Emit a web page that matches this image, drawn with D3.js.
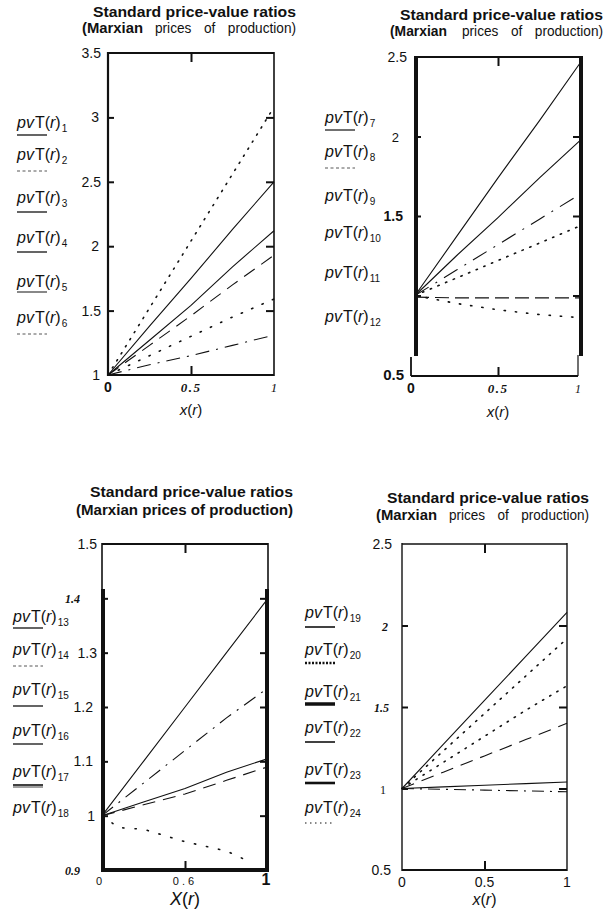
<!DOCTYPE html>
<html>
<head>
<meta charset="utf-8">
<script src="https://cdn.jsdelivr.net/npm/d3@7"></script>
<style>
  body { margin: 0; background: #fff; }
  svg { display: block; }
</style>
</head>
<body>
<svg id="chart" width="607" height="915"></svg>
<script>
// ---------- data ----------
const xGrid = [0, 0.25, 0.5, 0.75, 1];
const xTickValues = [0, 0.5, 1];

// panel 1: pvT(r)1 .. pvT(r)6
const p1Dotted   = [1, 1.52, 2.04, 2.56, 3.08];
const p1SolidA   = [1, 1.38, 1.75, 2.13, 2.50];
const p1SolidB   = [1, 1.27, 1.54, 1.84, 2.12];
const p1LongDash = [1, 1.23, 1.46, 1.70, 1.93];
const p1DottedB  = [1, 1.15, 1.30, 1.45, 1.59];
const p1DashDot  = [1, 1.08, 1.15, 1.23, 1.31];
const p1YTicks = [1, 1.5, 2, 2.5, 3, 3.5];
const p1YLabels = ["1", "1.5", "2", "2.5", "3", "3.5"];
const p1XLabels = ["0", "0.5", "1"];
const p1Legend = ["1", "2", "3", "4", "5", "6"];

// panel 2: pvT(r)7 .. pvT(r)12
const p2SolidA   = [1, 1.37, 1.74, 2.10, 2.47];
const p2SolidB   = [1, 1.25, 1.49, 1.74, 1.98];
const p2DashDot  = [1, 1.16, 1.32, 1.48, 1.64];
const p2Dotted   = [1, 1.11, 1.22, 1.33, 1.44];
const p2LongDash = [0.99, 0.985, 0.985, 0.985, 0.985];
const p2DottedB  = [1, 0.95, 0.91, 0.88, 0.86];
const p2YTicks = [0.5, 1, 1.5, 2, 2.5];
const p2YLabelValues = [0.5, 1.5, 2, 2.5];
const p2YLabels = ["0.5", "1.5", "2", "2.5"];
const p2XLabels = ["0", "0.5", "1"];
const p2Legend = ["7", "8", "9", "10", "11", "12"];

// panel 3: pvT(r)13 .. pvT(r)18
const p3SolidA   = [1, 1.10, 1.20, 1.30, 1.40];
const p3DashDot  = [1, 1.06, 1.12, 1.18, 1.235];
const p3SolidB   = [1, 1.025, 1.05, 1.08, 1.105];
const p3LongDash = [1, 1.02, 1.04, 1.065, 1.09];
const p3DottedX  = [0, 0.1, 0.25, 0.5, 0.75, 0.87];
const p3Dotted   = [1, 0.978, 0.975, 0.952, 0.935, 0.918];
const p3YTicks = [0.9, 1, 1.1, 1.2, 1.3, 1.4, 1.5];
const p3YLabels = ["0.9", "1", "1.1", "1.2", "1.3", "1.4", "1.5"];
const p3XLabels = ["0", "0.6", "1"];
const p3Legend = ["13", "14", "15", "16", "17", "18"];

// panel 4: pvT(r)19 .. pvT(r)24
const p4Solid    = [1, 1.27, 1.54, 1.81, 2.08];
const p4Dotted   = [1, 1.23, 1.46, 1.69, 1.92];
const p4DottedB  = [1, 1.16, 1.32, 1.48, 1.63];
const p4LongDash = [1, 1.10, 1.20, 1.30, 1.40];
const p4SolidFlat = [1, 1.01, 1.02, 1.03, 1.04];
const p4DashDot  = [1, 0.995, 0.99, 0.985, 0.98];
const p4YTicks = [0.5, 1, 1.5, 2, 2.5];
const p4YLabels = ["0.5", "1", "1.5", "2", "2.5"];
const p4XLabels = ["0", "0.5", "1"];
const p4Legend = ["19", "20", "21", "22", "23", "24"];

const titleLine1 = "Standard price-value ratios";
const titleBold = "(Marxian";
const titleRest = "prices of production)";

// ---------- styles ----------
const SANS = "'Liberation Sans', Arial, Helvetica, sans-serif";
const SERIF = "'Liberation Serif', 'Times New Roman', serif";
const DASH = {
  solid: null,
  dotted: "1.3,7",
  dottedWide: "1.3,10",
  longDash: "13,8",
  dashDot: "14,7,2,7"
};
const sansN = { family: SANS, size: 14, weight: "normal", style: "normal" };
const sansB = { family: SANS, size: 14, weight: "bold", style: "normal" };
const serifBI = { family: SERIF, size: 13, weight: "bold", style: "italic", spacing: 1.5 };
const serifI = { family: SERIF, size: 13, weight: "normal", style: "italic" };
const serifN = { family: SERIF, size: 12, weight: "normal", style: "normal" };

const svg = d3.select("#chart");

function series(values, dash, xs) {
  return { values, dash, xs: xs || xGrid };
}

function styledText(g, txt, x, yy, st, anchor) {
  return g.append("text")
    .attr("x", x).attr("y", yy)
    .attr("text-anchor", anchor || "middle")
    .style("font-family", st.family)
    .style("font-size", st.size + "px")
    .style("font-weight", st.weight)
    .style("font-style", st.style)
    .style("letter-spacing", (st.spacing || 0) + "px")
    .attr("fill", "#111")
    .text(txt);
}

function drawPanel(cfg) {
  const g = svg.append("g");
  const x = d3.scaleLinear().domain([0, 1]).range(cfg.xRange);
  const y = d3.scaleLinear().domain(cfg.yDomain).range(cfg.yRange);
  const [x0, x1] = cfg.xRange;
  const [yb, yt] = cfg.yRange;

  // two-line heading
  const t = cfg.title;
  const fs1 = t.size1 || 15, fs2 = t.size2 || 15;
  g.append("text").attr("x", t.l1[0]).attr("y", t.y1)
    .attr("textLength", t.l1[1] - t.l1[0]).attr("lengthAdjust", "spacingAndGlyphs")
    .style("font-family", SANS).style("font-size", fs1 + "px").style("font-weight", "bold")
    .attr("fill", "#111").text(titleLine1);
  if (t.single) {
    g.append("text").attr("x", t.l2a[0]).attr("y", t.y2)
      .attr("textLength", t.l2a[1] - t.l2a[0]).attr("lengthAdjust", "spacingAndGlyphs")
      .style("font-family", SANS).style("font-size", fs2 + "px").style("font-weight", "bold")
      .attr("fill", "#111").text(titleBold + " " + titleRest);
  } else {
    g.append("text").attr("x", t.l2a[0]).attr("y", t.y2)
      .attr("textLength", t.l2a[1] - t.l2a[0]).attr("lengthAdjust", "spacingAndGlyphs")
      .style("font-family", SANS).style("font-size", fs2 + "px").style("font-weight", "bold")
      .attr("fill", "#111").text(titleBold);
    g.append("text").attr("x", t.l2b[0]).attr("y", t.y2)
      .attr("textLength", t.l2b[1] - t.l2b[0]).attr("lengthAdjust", "spacingAndGlyphs")
      .style("font-family", SANS).style("font-size", "14px").style("word-spacing", "9px")
      .attr("fill", "#111").text(titleRest);
  }

  // curves
  const line = d3.line().x(d => x(d[0])).y(d => y(d[1]));
  cfg.series.forEach(s => {
    const dotted = s.dash && s.dash.startsWith("1.3");
    g.append("path")
      .datum(s.values.map((v, i) => [s.xs[i], v]))
      .attr("d", line)
      .attr("fill", "none")
      .attr("stroke", "#111")
      .attr("stroke-width", dotted ? 1.6 : 1.1)
      .attr("stroke-linecap", dotted ? "round" : "butt")
      .attr("stroke-dasharray", s.dash);
  });

  // frame
  const seg = (xa, ya, xb, yb2, w) => g.append("line")
    .attr("x1", xa).attr("y1", ya).attr("x2", xb).attr("y2", yb2)
    .attr("stroke", "#111").attr("stroke-width", w);
  cfg.frame(seg, x0, x1, yt, yb);

  // ticks through d3 axes (inward, no labels)
  const tickStyle = sel => {
    sel.select(".domain").remove();
    sel.selectAll(".tick line").attr("stroke", "#111").attr("stroke-width", 2);
  };
  g.append("g").attr("transform", `translate(${x0},0)`)
    .call(d3.axisLeft(y).tickValues(cfg.leftTicks).tickSize(-6).tickFormat(""))
    .call(tickStyle);
  g.append("g").attr("transform", `translate(${x1},0)`)
    .call(d3.axisRight(y).tickValues(cfg.rightTicks).tickSize(-8).tickFormat(""))
    .call(tickStyle);
  g.append("g").attr("transform", `translate(0,${yt})`)
    .call(d3.axisTop(x).tickValues([0.5]).tickSize(-9).tickFormat(""))
    .call(tickStyle);
  g.append("g").attr("transform", `translate(0,${cfg.bottomY || yb})`)
    .call(d3.axisBottom(x).tickValues([0.5]).tickSize(-9).tickFormat(""))
    .call(tickStyle);

  // y tick labels
  cfg.yLabelValues.forEach((v, i) => {
    styledText(g, cfg.yLabels[i], cfg.yLabelRight[i], y(v) + 5, cfg.yLabelStyles[i], "end");
  });
  // x tick labels
  xTickValues.forEach((v, i) => {
    styledText(g, cfg.xLabels[i], x(v) + (cfg.xLabelShift ? cfg.xLabelShift[i] : 0),
      cfg.xLabelY, cfg.xLabelStyles[i], "middle");
  });
  // x axis title x(r)
  const at = g.append("text").attr("x", x(0.5) + (cfg.axisTitleShift || 0)).attr("y", cfg.axisTitleY)
    .attr("text-anchor", "middle")
    .style("font-family", SANS).style("font-size", cfg.axisTitleSize + "px").attr("fill", "#111");
  at.append("tspan").style("font-style", "italic").text(cfg.axisTitleVar);
  at.append("tspan").text("(");
  at.append("tspan").style("font-style", "italic").text("r");
  at.append("tspan").text(")");

  // legend labels pvT(r)_k
  cfg.legend.forEach((k, i) => {
    const by = cfg.legendY[i];
    const tx = g.append("text").attr("x", cfg.legendX).attr("y", by)
      .style("font-family", SANS).style("font-size", "16px").attr("fill", "#111");
    tx.append("tspan").style("font-style", "italic").text("pv");
    tx.append("tspan").attr("dx", 1).text("T(");
    tx.append("tspan").style("font-style", "italic").text("r");
    tx.append("tspan").text(")");
    tx.append("tspan").attr("dy", 4).attr("dx", 1).style("font-size", "10px").text(k);
    const sample = cfg.legendSamples[i];
    if (sample) {
      g.append("line")
        .attr("x1", cfg.legendX).attr("x2", cfg.legendX + 30)
        .attr("y1", by + sample.dy).attr("y2", by + sample.dy)
        .attr("stroke", sample.color || "#111")
        .attr("stroke-width", sample.w)
        .attr("stroke-dasharray", sample.dash || null);
      if (sample.double) {
        g.append("line")
          .attr("x1", cfg.legendX).attr("x2", cfg.legendX + 30)
          .attr("y1", by + sample.dy + 2).attr("y2", by + sample.dy + 2)
          .attr("stroke", "#111").attr("stroke-width", 0.8);
      }
    }
  });
}

const dashS = { dy: 11, w: 0.9, dash: "3,2.5", color: "#444" };

// ---------- panel 1 ----------
drawPanel({
  xRange: [108, 274], yDomain: [1, 3.5], yRange: [375, 53],
  title: { y1: 17, y2: 33, l1: [93, 296], l2a: [82, 143], l2b: [155, 296] },
  series: [
    series(p1Dotted, DASH.dotted),
    series(p1SolidA, DASH.solid),
    series(p1SolidB, DASH.solid),
    series(p1LongDash, DASH.longDash),
    series(p1DottedB, DASH.dottedWide),
    series(p1DashDot, DASH.dashDot)
  ],
  frame: (seg, x0, x1, yt, yb) => {
    seg(x0, yt, x1, yt, 2);
    seg(x0, yt - 1, x0, yb + 1, 2.2);
    seg(x1, yt - 1, x1, yb + 1, 1.6);
    seg(x0, yb, x1, yb, 2);
  },
  leftTicks: [1.5, 2, 2.5, 3], rightTicks: [1.5, 2, 2.5, 3],
  yLabelValues: p1YTicks, yLabels: p1YLabels,
  yLabelRight: [100, 101, 99, 101, 99, 101],
  yLabelStyles: [sansN, sansN, sansN, sansN, sansN, sansN],
  xLabels: p1XLabels, xLabelY: 392,
  xLabelStyles: [sansB, serifBI, serifI],
  axisTitleVar: "x", axisTitleY: 415, axisTitleSize: 15,
  legend: p1Legend, legendX: 17, legendY: [128, 160, 203, 243, 287, 323],
  legendSamples: [
    { dy: 7, w: 1.3 }, dashS, { dy: 9, w: 1.3 }, { dy: 9, w: 1.3 },
    { dy: 5, w: 1.4, color: "#555" }, dashS
  ]
});

// ---------- panel 2 ----------
drawPanel({
  xRange: [415, 581], yDomain: [0.5, 2.5], yRange: [375, 57],
  title: { y1: 20, y2: 36, l1: [400, 603], l2a: [390, 447], l2b: [462, 603] },
  series: [
    series(p2SolidA, DASH.solid),
    series(p2SolidB, DASH.solid),
    series(p2DashDot, "16,8,2,8"),
    series(p2Dotted, DASH.dotted),
    series(p2LongDash, "14,6"),
    series(p2DottedB, DASH.dottedWide)
  ],
  frame: (seg, x0, x1, yt, yb) => {
    seg(x0, yt, x1 + 1, yt, 2.2);
    seg(x0 + 1, yt - 1, x0 + 1, yb - 19, 4);
    seg(x1, yt - 1, x1, yb - 19, 4);
    // lower strip of the frame, slightly offset
    seg(x0 - 4, yb - 18, x0 - 4, yb + 1, 1.8);
    seg(x1 - 3, yb - 20, x1 - 3, yb + 1, 1.2);
    seg(x0 - 4, yb + 1, x1 - 3, yb + 1, 2.2);
  },
  bottomY: 376,
  leftTicks: [1, 1.5, 2], rightTicks: [1, 1.5, 2],
  yLabelValues: p2YLabelValues, yLabels: p2YLabels,
  yLabelRight: [404, 403, 399, 407],
  yLabelStyles: [
    { family: SANS, size: 15, weight: "bold", style: "normal" },
    { family: SANS, size: 14, weight: "bold", style: "normal" },
    { family: SANS, size: 13, weight: "normal", style: "normal" },
    sansN
  ],
  xLabels: p2XLabels, xLabelY: 393, xLabelShift: [-4, 0, -3],
  xLabelStyles: [sansB, serifBI, { family: SERIF, size: 12, weight: "normal", style: "italic" }],
  axisTitleVar: "x", axisTitleY: 417, axisTitleSize: 15,
  legend: p2Legend, legendX: 325, legendY: [123, 157, 201, 238, 278, 322],
  legendSamples: [{ dy: 7, w: 1.2 }, dashS, null, null, null, null]
});

// ---------- panel 3 ----------
drawPanel({
  xRange: [102, 268], yDomain: [0.9, 1.5], yRange: [870, 544],
  title: { y1: 497, y2: 515, size1: 14, size2: 14, l1: [90, 293], l2a: [76, 293], single: true },
  series: [
    series(p3SolidA, DASH.solid),
    series(p3DashDot, DASH.dashDot),
    series(p3SolidB, DASH.solid),
    series(p3LongDash, DASH.longDash),
    series(p3Dotted, "1.3,11", p3DottedX)
  ],
  frame: (seg, x0, x1, yt, yb) => {
    seg(x0, yt, x1, yt, 2);
    seg(x0, yt - 1, x0, yt + 45, 1.6);
    seg(x0 + 1, yt + 45, x0 + 1, yb + 2, 4);
    seg(x1, yt - 1, x1, yt + 45, 1.6);
    seg(x1 - 1, yt + 45, x1 - 1, yb + 2, 4);
    seg(x0, yb, x1, yb, 4);
  },
  leftTicks: [1, 1.1, 1.2, 1.3, 1.4], rightTicks: [1, 1.1, 1.2, 1.3, 1.4],
  yLabelValues: p3YTicks, yLabels: p3YLabels,
  yLabelRight: [80, 95, 93, 93, 97, 80, 97],
  yLabelStyles: [
    { family: SERIF, size: 12, weight: "bold", style: "italic" },
    sansN, sansN, sansN, sansN,
    { family: SERIF, size: 12, weight: "bold", style: "italic" },
    sansN
  ],
  xLabels: p3XLabels, xLabelY: 885, xLabelShift: [-3, 0, -2],
  xLabelStyles: [
    { family: SANS, size: 11, weight: "normal", style: "normal" },
    { family: SANS, size: 11, weight: "normal", style: "normal", spacing: 3 },
    { family: SANS, size: 16, weight: "bold", style: "normal" }
  ],
  axisTitleVar: "X", axisTitleY: 905, axisTitleSize: 18, axisTitleShift: 0,
  legend: p3Legend, legendX: 13, legendY: [622, 655, 695, 736, 777, 813],
  legendSamples: [
    { dy: 6, w: 1.3 }, dashS, { dy: 11, w: 1.3 }, { dy: 8, w: 1.3 },
    { dy: 8, w: 1.6, double: true }, null
  ]
});

// ---------- panel 4 ----------
drawPanel({
  xRange: [402, 567], yDomain: [0.5, 2.5], yRange: [870, 544],
  title: { y1: 503, y2: 520, l1: [387, 589], l2a: [376, 437], l2b: [449, 589] },
  series: [
    series(p4Solid, DASH.solid),
    series(p4Dotted, DASH.dotted),
    series(p4DottedB, DASH.dotted),
    series(p4LongDash, DASH.longDash),
    series(p4SolidFlat, DASH.solid),
    series(p4DashDot, "12,6,2,6")
  ],
  frame: (seg, x0, x1, yt, yb) => {
    seg(x0, yt, x1, yt, 1.6);
    seg(x0, yt - 1, x0, yb + 1, 1.4);
    seg(x1, yt - 1, x1, yb + 1, 1.4);
    seg(x0, yb, x1, yb, 1.8);
  },
  leftTicks: [1, 1.5, 2], rightTicks: [1, 1.5, 2],
  yLabelValues: p4YTicks, yLabels: p4YLabels,
  yLabelRight: [391, 386, 389, 388, 392],
  yLabelStyles: [
    sansN, serifN,
    { family: SERIF, size: 12, weight: "bold", style: "italic" },
    { family: SERIF, size: 12, weight: "bold", style: "italic" },
    sansN
  ],
  xLabels: p4XLabels, xLabelY: 887,
  xLabelStyles: [sansN, sansN, sansN],
  axisTitleVar: "x", axisTitleY: 905, axisTitleSize: 16,
  legend: p4Legend, legendX: 305, legendY: [618, 655, 697, 733, 775, 813],
  legendSamples: [
    { dy: 9, w: 1.6 }, { dy: 8, w: 2.6, dash: "2,1.5" }, { dy: 7, w: 3.5 },
    { dy: 9, w: 1.6 }, { dy: 8, w: 2.6 }, { dy: 10, w: 1, dash: "1.5,3.5" }
  ]
});
</script>
</body>
</html>
